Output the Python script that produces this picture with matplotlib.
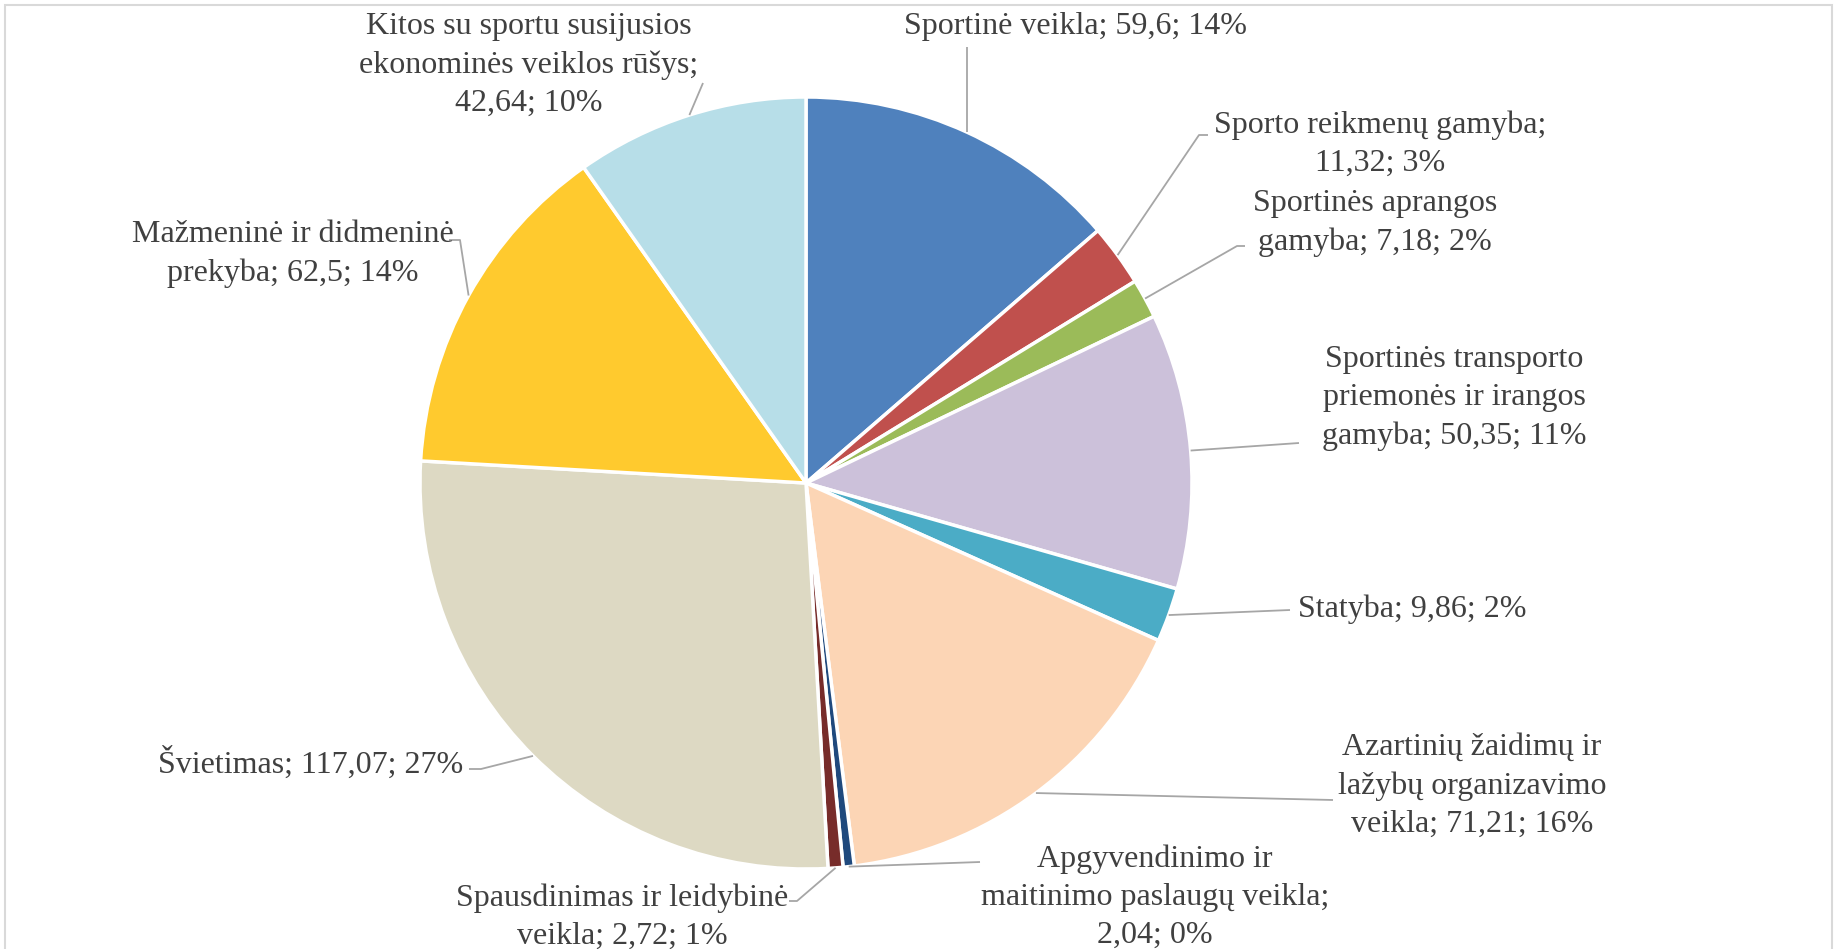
import numpy as np
import matplotlib
matplotlib.use("Agg")
import matplotlib.pyplot as plt
from matplotlib.patches import Rectangle

# ---- data ----
categories = [
    "Sportinė veikla",
    "Sporto reikmenų gamyba",
    "Sportinės aprangos gamyba",
    "Sportinės transporto priemonės ir irangos gamyba",
    "Statyba",
    "Azartinių žaidimų ir lažybų organizavimo veikla",
    "Apgyvendinimo ir maitinimo paslaugų veikla",
    "Spausdinimas ir leidybinė veikla",
    "Švietimas",
    "Mažmeninė ir didmeninė prekyba",
    "Kitos su sportu susijusios ekonominės veiklos rūšys",
]
values = [59.6, 11.32, 7.18, 50.35, 9.86, 71.21, 2.04, 2.72, 117.07, 62.5, 42.64]
value_labels = ["59,6", "11,32", "7,18", "50,35", "9,86", "71,21", "2,04", "2,72",
                "117,07", "62,5", "42,64"]
pct_labels = ["14%", "3%", "2%", "11%", "2%", "16%", "0%", "1%", "27%", "14%", "10%"]
label_texts = [
    "Sportinė veikla; {v}; {p}",
    "Sporto reikmenų gamyba;\n{v}; {p}",
    "Sportinės aprangos\ngamyba; {v}; {p}",
    "Sportinės transporto\npriemonės ir irangos\ngamyba; {v}; {p}",
    "Statyba; {v}; {p}",
    "Azartinių žaidimų ir\nlažybų organizavimo\nveikla; {v}; {p}",
    "Apgyvendinimo ir\nmaitinimo paslaugų veikla;\n{v}; {p}",
    "Spausdinimas ir leidybinė\nveikla; {v}; {p}",
    "Švietimas; {v}; {p}",
    "Mažmeninė ir didmeninė\nprekyba; {v}; {p}",
    "Kitos su sportu susijusios\nekonominės veiklos rūšys;\n{v}; {p}",
]
colors = ["#4F81BD", "#C0504D", "#9BBB59", "#CCC1DA", "#4BACC6", "#FCD5B5",
          "#1F497D", "#772C2A", "#DDD9C3", "#FFCA2E", "#B7DEE8"]

# ---- layout (pixel coords, top-left origin) ----
W, H = 1839, 949
CX, CY, R = 806, 483, 386
# text anchor (x, y, ha), leader points after the wedge edge point
layout = [
    ((1076, 26, "center"), [(None, 47)]),
    ((1380, 144, "center"), [(1199, 135), (1208, 135)]),
    ((1375, 223, "center"), [(1237, 246), (1245, 246)]),
    ((1454, 398, "center"), [(1299, 443)]),
    ((1298, 609, "left"), [(1290, 610)]),
    ((1472, 786, "center"), [(1333, 800)]),
    ((1155, 897, "center"), [(980, 862)]),
    ((622, 917, "center"), [(797, 901), (789, 901)]),
    ((311, 763, "center"), [(481, 769), (469, 769)]),
    ((293, 254, "center"), [(460, 240), (449, 240)]),
    ((529, 65, "center"), [(703, 83)]),
]

def fy(y):
    return H - y

plt.rcParams["font.family"] = ["Liberation Serif", "DejaVu Serif"]
fig = plt.figure(figsize=(W / 100, H / 100), dpi=100)
ax = fig.add_axes([0, 0, 1, 1])

wedges, _ = ax.pie(values, colors=colors, startangle=90, counterclock=False,
                   center=(CX, fy(CY)), radius=R,
                   wedgeprops=dict(edgecolor="white", linewidth=2.5))
ax.set_xlim(0, W)
ax.set_ylim(0, H)
ax.set_aspect("equal")
ax.axis("off")

# frame
fig.patches.append(Rectangle((5 / W, -0.05), (1832 - 5) / W, (H - 5) / H + 0.05,
                             transform=fig.transFigure, fill=False,
                             edgecolor="#D9D9D9", linewidth=1.5))

txt_color = "#404040"
for w, tmpl, v, p, (anchor, pts) in zip(wedges, label_texts, value_labels, pct_labels, layout):
    mid = np.deg2rad((w.theta1 + w.theta2) / 2)
    ex = CX + R * np.cos(mid)
    ey = fy(CY) + R * np.sin(mid)
    xs, ys = [ex], [ey]
    for px, py in pts:
        xs.append(ex if px is None else px)
        ys.append(fy(py))
    ax.plot(xs, ys, color="#A6A6A6", linewidth=1.3, solid_capstyle="butt")
    tx, ty, ha = anchor
    ax.text(tx, fy(ty), tmpl.format(v=v, p=p), ha=ha, va="center",
            fontsize=23, color=txt_color, linespacing=1.42)

fig.savefig("out.png", dpi=100, facecolor="white")
